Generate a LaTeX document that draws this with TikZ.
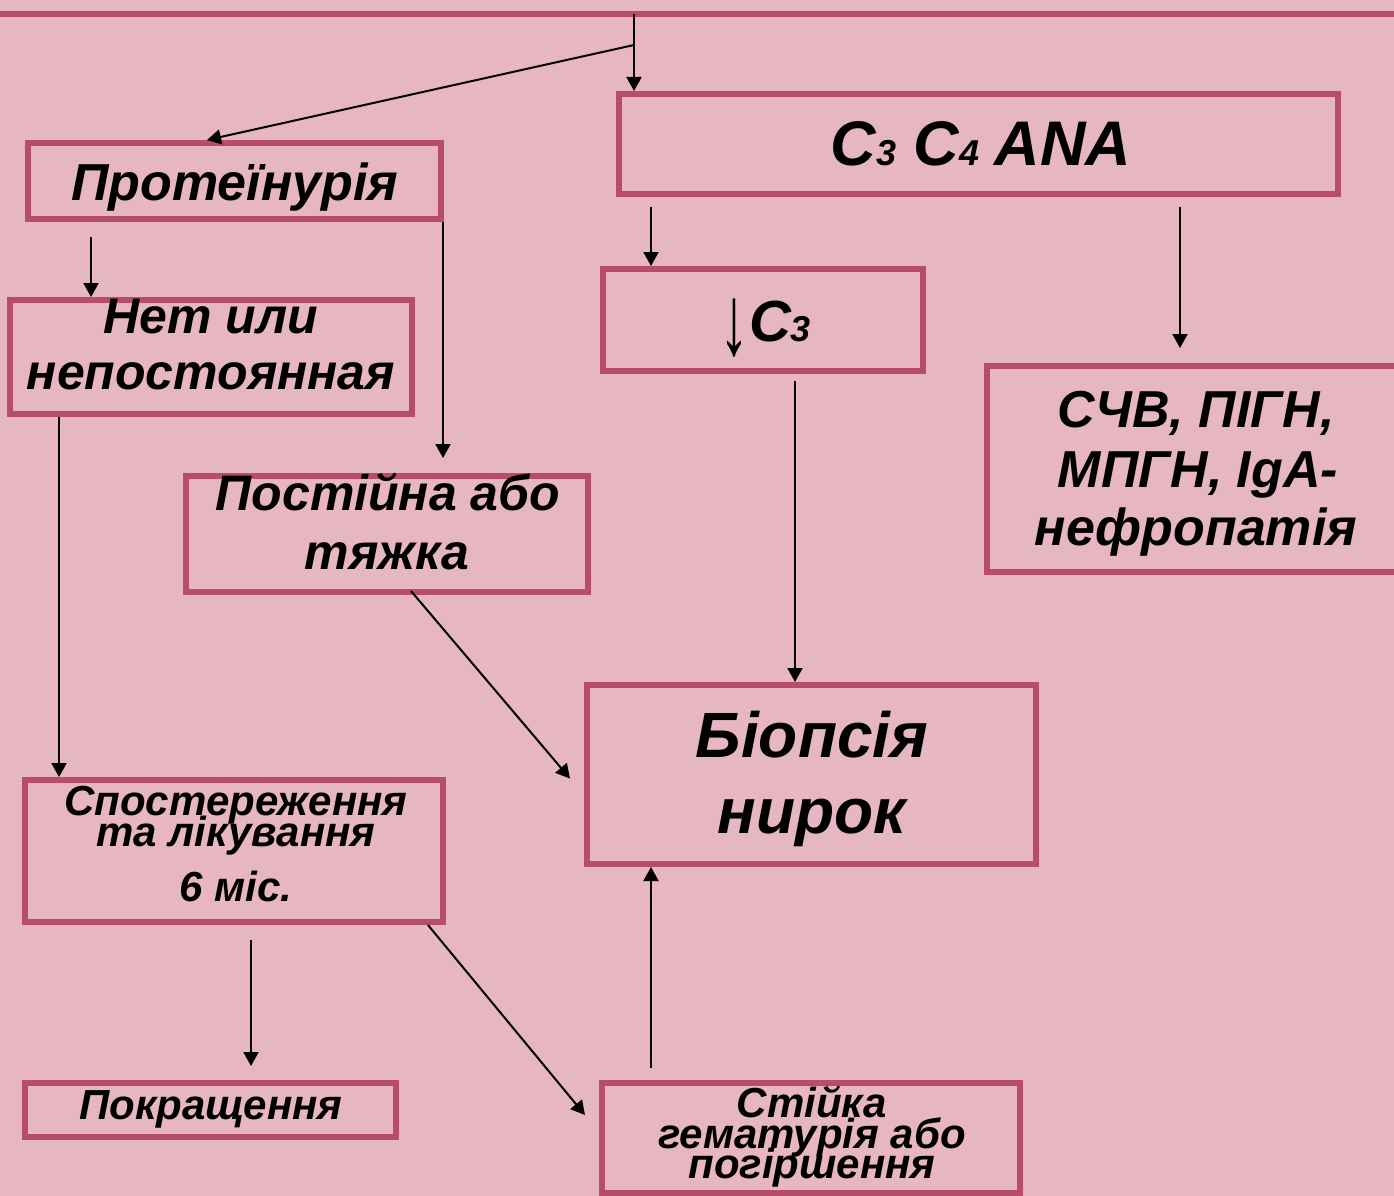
\documentclass[tikz,border=0pt]{standalone}
\usepackage{fontspec}
\setmainfont{Liberation Sans}
\usetikzlibrary{arrows.meta,calc}
\definecolor{bgpink}{RGB}{231,183,193}
\definecolor{framecol}{RGB}{184,76,111}
\tikzset{
  box/.style={draw=framecol, line width=6pt, rectangle, inner sep=0pt, anchor=center},
  lbl/.style={anchor=base, inner sep=0pt, text=black},
  arr/.style={draw=black, line width=2pt, -{Triangle[length=14pt,width=15pt]}},
  fsz/.style={font=\bfseries\itshape\fontsize{#1}{#1}\selectfont},
}
\begin{document}
\begin{tikzpicture}[x=1pt,y=-1pt]
\useasboundingbox (0,0) rectangle (1394,1196);
\fill[bgpink] (0,0) rectangle (1394,1196);
% top rule
\coordinate (tl) at (0,14);
\coordinate (tr) at (1394,14);
\draw[framecol, line width=6pt] (tl) -- (tr);

% boxes
\node[box, minimum width=413pt, minimum height=76pt]  (prot)  at (234.5,181) {};
\node[box, minimum width=719pt, minimum height=100pt] (ana)   at (978.5,144) {};
\node[box, minimum width=320pt, minimum height=102pt] (c3)    at (763,320) {};
\node[box, minimum width=420pt, minimum height=206pt] (schv)  at (1197,469) {};
\node[box, minimum width=402pt, minimum height=114pt] (net)   at (211,357) {};
\node[box, minimum width=402pt, minimum height=116pt] (post)  at (387,534) {};
\node[box, minimum width=418pt, minimum height=142pt] (spost) at (234,851) {};
\node[box, minimum width=449pt, minimum height=179pt] (biop)  at (811.5,774.5) {};
\node[box, minimum width=371pt, minimum height=54pt]  (pokr)  at (210.5,1110) {};
\node[box, minimum width=418pt, minimum height=110pt] (stiy)  at (811,1138) {};

% texts
\node[lbl, fsz=52] (tprot) at (235,200) {Протеїнурія};
\node[lbl, fsz=63] (tana) at (981,165) {C{\fontsize{36}{36}\selectfont 3} C{\fontsize{36}{36}\selectfont 4}\hspace{0.25em}ANA};
\node[lbl, fsz=58] (tc3) at (765,341) {{\mdseries\upshape\fontsize{52}{52}\selectfont\raisebox{-13pt}{\scalebox{1.15}[1.9]{↓}}}C{\fontsize{36}{36}\selectfont 3}};
\node[lbl, fsz=50] (tneta) at (211,333) {Нет или};
\node[lbl, fsz=50] (tnetb) at (211,389) {непостоянная};
\node[lbl, fsz=50] (tposta) at (388,510) {Постійна або};
\node[lbl, fsz=50] (tpostb) at (387,569) {тяжка};
\node[lbl, fsz=52] (tschva) at (1196,427) {СЧВ, ПІГН,};
\node[lbl, fsz=52] (tschvb) at (1198,487) {МПГН, IgA-};
\node[lbl, fsz=52] (tschvc) at (1196,545) {нефропатія};
\node[lbl, fsz=64] (tbiopa) at (812,757) {Біопсія};
\node[lbl, fsz=64] (tbiopb) at (812,833) {нирок};
\node[lbl, fsz=42] (tsposta) at (236,815) {Спостереження};
\node[lbl, fsz=42] (tspostb) at (236,846) {та лікування};
\node[lbl, fsz=42] (tspostc) at (236,901) {6 міс.};
\node[lbl, fsz=42] (tpokr) at (211,1119) {Покращення};
\node[lbl, fsz=42] (tstiya) at (812,1117) {Стійка};
\node[lbl, fsz=42] (tstiyb) at (812,1148) {гематурія або};
\node[lbl, fsz=42] (tstiyc) at (812,1178) {погіршення};

% connectors
\coordinate (j1) at (634,14);
\coordinate (j2) at (634,45);
\draw[arr] (j1) -- (ana.north -| j1);
\draw[arr] (j2) -- ($(prot.north west)+(182,0)$);

\coordinate (s3) at ($(ana.south west)+(35,10)$);
\draw[arr] (s3) -- (s3 |- c3.north);

\coordinate (s4) at ($(ana.south west)+(564,10)$);
\draw[arr] (s4) -- ($(s4 |- schv.north)+(0,-15)$);

\coordinate (s5) at ($(prot.south west)+(66,15)$);
\draw[arr] (s5) -- (s5 |- net.north);

\coordinate (s6) at ($(prot.south east)+(-1,0)$);
\draw[arr] (s6) -- ($(s6 |- post.north)+(0,-15)$);

\coordinate (s7) at ($(net.south west)+(52,0)$);
\draw[arr] (s7) -- (s7 |- spost.north);

\coordinate (s8) at ($(post.south west)+(228,-4)$);
\draw[arr] (s8) -- ($(biop.west)+(-14,4)$);

\coordinate (s9) at ($(c3.south)+(32,7)$);
\draw[arr] (s9) -- (s9 |- biop.north);

\coordinate (s10) at ($(spost.south west)+(229,15)$);
\draw[arr] (s10) -- ($(s10 |- pokr.north)+(0,-14)$);

\coordinate (s11) at ($(spost.south east)+(-18,0)$);
\draw[arr] (s11) -- ($(stiy.west)+(-14,-23)$);

\coordinate (s12) at ($(stiy.north west)+(52,-12)$);
\draw[arr] (s12) -- (s12 |- biop.south);
\end{tikzpicture}
\end{document}
